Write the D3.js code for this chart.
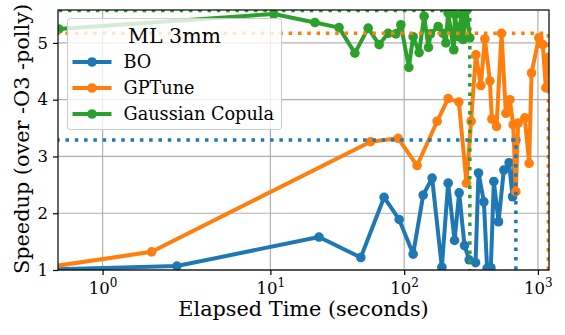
<!DOCTYPE html>
<html>
<head>
<meta charset="utf-8">
<script src="https://cdn.jsdelivr.net/npm/d3@7"></script>
<style>
  body { margin: 0; background: #fff; }
  svg { display: block; font-family: "DejaVu Serif", serif; }
</style>
</head>
<body>
<div id="chart"></div>
<script>
// ML 3mm: speedup vs elapsed time (symlog x axis, linthresh 2)
var boTime = [0, 2.0, 23.1, 47.4, 70.8, 91.7, 116.7, 138.7, 161.8, 191.3, 213.2, 238.2, 257.7, 282.6,
  306.2, 341.7, 359.7, 394.5, 417, 444.6, 468, 507.6, 556, 609, 646, 684];
var boSpeedup = [1.0, 1.07, 1.58, 1.22, 2.28, 1.89, 1.28, 2.32, 2.62, 1.05, 2.53, 1.52, 2.36, 1.43,
  1.18, 1.13, 2.71, 2.20, 1.03, 1.04, 2.56, 1.85, 2.76, 2.89, 2.29, 3.29];

var gpTime = [0, 1.66, 56.1, 90.2, 125, 176.5, 213.2, 256.4, 292.5, 316.6, 343.5, 374.3, 401, 437.5,
  452.6, 490.5, 534.6, 575.7, 617, 653, 684, 711, 798, 860, 896, 1016, 1088, 1146, 1197];
var gpSpeedup = [1.0, 1.32, 3.26, 3.32, 2.84, 3.62, 4.02, 3.96, 2.53, 3.62, 4.79, 4.25, 5.07, 4.33,
  3.66, 3.53, 5.17, 3.76, 4.0, 3.56, 2.38, 3.59, 3.68, 2.88, 4.47, 5.09, 4.97, 4.21, 4.74];

var gcTime = [0.41, 10.6, 21.5, 32.6, 42.8, 53.8, 65.0, 75.9, 86.7, 94.5, 108.4, 116.7, 129.4, 141,
  152, 157.4, 179.5, 195.5, 205, 213, 235, 239, 253.5, 268.5, 276, 292.6, 309.7];
var gcSpeedup = [5.245, 5.51, 5.36, 5.27, 4.82, 5.26, 4.97, 5.17, 5.16, 5.32, 4.57, 5.11, 4.83, 5.47,
  4.92, 5.16, 5.29, 5.17, 5.0, 5.53, 4.88, 5.50, 5.11, 5.50, 5.06, 5.57, 5.09];

var seriesNames = ['BO', 'GPTune', 'Gaussian Copula'];
var seriesColors = ['#1f77b4', '#ff7f0e', '#2ca02c'];
var xTicks = [1, 10, 100, 1000];
var yTicks = [1, 2, 3, 4, 5];
var legendTitle = 'ML 3mm';

var W = 565, H = 335;
var pLeft = 58, pRight = 549, pTop = 10, pBottom = 270;

// matplotlib-style symlog transform (base 10, linthresh 2, linscale 1)
function symT(v) {
  var lt = 2, adj = 1 / (1 - 1 / 10);
  var a = Math.abs(v);
  if (a <= lt) return v * adj;
  return Math.sign(v) * lt * (adj + Math.log10(a / lt));
}

var xT = d3.scaleLinear().domain([symT(0.4), symT(1210)]).range([pLeft, pRight]);
var x = function(v) { return xT(symT(v)); };
var y = d3.scaleLinear().domain([1, 5.58]).range([pBottom, pTop]);

var svg = d3.select('#chart').append('svg')
  .attr('width', W).attr('height', H);

svg.append('defs').append('clipPath').attr('id', 'plot-clip')
  .append('rect')
  .attr('x', pLeft).attr('y', pTop)
  .attr('width', pRight - pLeft).attr('height', pBottom - pTop);

// grid
var grid = svg.append('g').attr('stroke', '#b0b0b0').attr('stroke-width', 1.2);
grid.selectAll('line.gx').data(xTicks).enter().append('line')
  .attr('x1', x).attr('x2', x).attr('y1', pTop).attr('y2', pBottom);
grid.selectAll('line.gy').data(yTicks).enter().append('line')
  .attr('y1', y).attr('y2', y).attr('x1', pLeft).attr('x2', pRight);

// series lines
var series = [
  { t: boTime, s: boSpeedup },
  { t: gpTime, s: gpSpeedup },
  { t: gcTime, s: gcSpeedup }
];

var plot = svg.append('g').attr('clip-path', 'url(#plot-clip)');
var line = d3.line().x(function(d) { return x(d[0]); }).y(function(d) { return y(d[1]); });

series.forEach(function(sr, i) {
  var pts = sr.t.map(function(t, j) { return [t, sr.s[j]]; });
  var g = plot.append('g');
  g.append('path').datum(pts)
    .attr('d', line)
    .attr('fill', 'none')
    .attr('stroke', seriesColors[i])
    .attr('stroke-width', 4)
    .attr('stroke-linejoin', 'round')
    .attr('stroke-linecap', 'butt');
  g.selectAll('circle').data(pts).enter().append('circle')
    .attr('cx', function(d) { return x(d[0]); })
    .attr('cy', function(d) { return y(d[1]); })
    .attr('r', 4.8)
    .attr('fill', seriesColors[i]);
});

// best-so-far guides: horizontal at max, vertical at end time
series.forEach(function(sr, i) {
  var best = d3.max(sr.s);
  var tEnd = sr.t[sr.t.length - 1];
  var pts = [[sr.t[0], best], [tEnd, best], [tEnd, 1]];
  plot.append('path').datum(pts)
    .attr('d', line)
    .attr('fill', 'none')
    .attr('stroke', seriesColors[i])
    .attr('stroke-width', 3.5)
    .attr('stroke-dasharray', '3.5,5.8');
});

// spines
svg.append('rect')
  .attr('x', pLeft).attr('y', pTop)
  .attr('width', pRight - pLeft).attr('height', pBottom - pTop)
  .attr('fill', 'none').attr('stroke', '#000').attr('stroke-width', 1.2);

// x axis
var xAxis = svg.append('g')
  .attr('transform', 'translate(0,' + pBottom + ')')
  .call(d3.axisBottom(xT).tickValues(xTicks.map(symT)).tickSize(5).tickPadding(5).tickFormat(''));
xAxis.select('.domain').remove();
xAxis.selectAll('.tick line').attr('stroke', '#000').attr('stroke-width', 1.2);
xAxis.selectAll('.tick').each(function(d, i) {
  var t = d3.select(this).select('text')
    .attr('font-family', '"DejaVu Serif", serif')
    .attr('font-size', 16.5).attr('fill', '#000')
    .attr('dy', null).attr('y', 23.5);
  t.append('tspan').text('10');
  t.append('tspan').attr('font-size', 12).attr('dy', -7).text(String(Math.round(Math.log10(xTicks[i]))));
});

// y axis
var yAxis = svg.append('g')
  .attr('transform', 'translate(' + pLeft + ',0)')
  .call(d3.axisLeft(y).tickValues(yTicks).tickSize(5).tickPadding(5).tickFormat(d3.format('d')));
yAxis.select('.domain').remove();
yAxis.selectAll('.tick line').attr('stroke', '#000').attr('stroke-width', 1.2);
yAxis.selectAll('.tick text')
  .attr('font-family', '"DejaVu Serif", serif')
  .attr('font-size', 16.5).attr('fill', '#000');

// axis labels
svg.append('text')
  .attr('x', (pLeft + pRight) / 2).attr('y', 316)
  .attr('text-anchor', 'middle').attr('font-size', 20.8)
  .text('Elapsed Time (seconds)');
svg.append('text')
  .attr('transform', 'translate(29,' + 139 + ') rotate(-90)')
  .attr('text-anchor', 'middle').attr('font-size', 20.8)
  .text('Speedup (over -O3 -polly)');

// legend
var lg = svg.append('g').attr('transform', 'translate(67.5,18.5)');
lg.append('rect')
  .attr('width', 214).attr('height', 111).attr('rx', 3)
  .attr('fill', '#fff').attr('fill-opacity', 0.8)
  .attr('stroke', '#cccccc').attr('stroke-width', 1);
lg.append('text')
  .attr('x', 107).attr('y', 24)
  .attr('text-anchor', 'middle').attr('font-size', 20.5)
  .text(legendTitle);
seriesNames.forEach(function(name, i) {
  var cy = 43.5 + i * 26;
  lg.append('line')
    .attr('x1', 5).attr('x2', 44).attr('y1', cy).attr('y2', cy)
    .attr('stroke', seriesColors[i]).attr('stroke-width', 4);
  lg.append('circle').attr('cx', 24.5).attr('cy', cy).attr('r', 4.8).attr('fill', seriesColors[i]);
  lg.append('text')
    .attr('x', 56).attr('y', cy + 6.3)
    .attr('font-size', 17.7)
    .text(name);
});
</script>
</body>
</html>
